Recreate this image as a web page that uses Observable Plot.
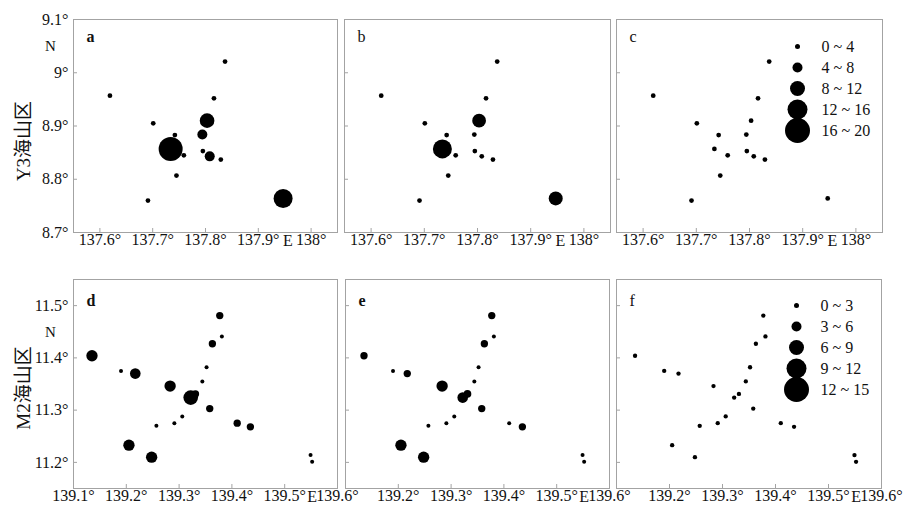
<!DOCTYPE html>
<html><head><meta charset="utf-8">
<script src="https://cdn.jsdelivr.net/npm/d3@7"></script>
<script src="https://cdn.jsdelivr.net/npm/@observablehq/plot@0.6"></script>
<style>
body{margin:0;background:#fff;}
#root{position:relative;width:903px;height:506px;overflow:hidden;font-family:"Liberation Serif",serif;background:#fff;}
.p{position:absolute;}
.rowlab{position:absolute;font-family:"Liberation Serif","Noto Sans CJK SC",serif;font-size:19px;color:#111;white-space:nowrap;transform:translate(-50%,-50%) rotate(-90deg);}
</style></head><body><div id="root"></div>
<script>
// ---- Y3 seamount (top row) ----
const y3Lon = [137.619,137.837,137.816,137.701,137.803,137.794,137.742,137.734,137.759,137.795,137.808,137.829,137.745,137.691,137.947];
const y3Lat = [8.957,9.021,8.952,8.905,8.910,8.884,8.883,8.857,8.845,8.853,8.843,8.837,8.807,8.760,8.764];
const y3A = [3.8,3.8,3.8,3.8,11.7,8,3.8,19.2,3.8,3.8,8,3.8,3.8,3.8,15.2];
const y3B = [3.8,3.8,3.8,3.8,11,3.8,3.8,15.2,3.8,3.8,3.8,3.8,3.8,3.8,11.2];
const y3C = [3.8,3.8,3.8,3.8,3.8,3.8,3.8,3.8,3.8,3.8,3.8,3.8,3.8,3.8,3.8];
const y3LonTicks = [137.6,137.7,137.8,137.9,138];
const y3LatTicks = [8.7,8.8,8.9,9.0,9.1];
const y3LegendLabels = ["0 ~ 4","4 ~ 8","8 ~ 12","12 ~ 16","16 ~ 20"];
const y3LegendValues = [4,8,12,16,20];

// ---- M2 seamount (bottom row) ----
const m2Lon = [139.135,139.190,139.217,139.283,139.322,139.331,139.344,139.352,139.363,139.377,139.381,139.358,139.306,139.291,139.257,139.410,139.435,139.205,139.248,139.549,139.552];
const m2Lat = [11.404,11.375,11.370,11.346,11.324,11.331,11.355,11.382,11.427,11.481,11.441,11.303,11.288,11.275,11.270,11.275,11.268,11.233,11.210,11.214,11.201];
const m2D = [6.8,2.4,6.4,6.8,8.8,4.4,2.4,2.4,4.4,4.4,2.4,4.4,2.4,2.4,2.4,4.4,4.4,6.8,6.8,2.4,2.4];
const m2E = [4.4,2.4,4.4,6.8,6.4,4.6,2.4,2.4,4.4,4.4,2.4,4.4,2.4,2.4,2.4,2.4,4.4,6.8,6.8,2.4,2.4];
const m2F = [2.6,2.6,2.6,2.6,2.6,2.6,2.6,2.6,2.6,2.6,2.6,2.6,2.6,2.6,2.6,2.6,2.6,2.6,2.6,2.6,2.6];
const m2LonTicksFirst = [139.1,139.2,139.3,139.4,139.5,139.6];
const m2LonTicks = [139.2,139.3,139.4,139.5,139.6];
const m2LatTicks = [11.2,11.3,11.4,11.5];
const m2LegendLabels = ["0 ~ 3","3 ~ 6","6 ~ 9","9 ~ 12","12 ~ 15"];
const m2LegendValues = [3,6,9,12,15];

const root = document.getElementById("root");
const ML = 60, MT = 10, MR = 40, MB = 24;
const GRAY = "#a3a3a3";
const fmt = d => (+d.toFixed(1)) + "°";
const baseStyle = {background:"transparent", overflow:"visible", fontFamily:"'Liberation Serif', serif", fontSize:"16px", color:"#111"};

function place(el, left, top){ el.classList.add("p"); el.style.left = left+"px"; el.style.top = top+"px"; root.appendChild(el); }

function panel(o){
  const idx = d3.range(o.lon.length);
  const marks = [
    Plot.frame({stroke: GRAY}),
    Plot.ruleX(o.innerX, {stroke: GRAY, insetTop: o.fh - 4}),
    Plot.ruleY(o.innerY, {stroke: GRAY, insetRight: o.fw - 4}),
    Plot.dot(idx, {x: i => o.lon[i], y: i => o.lat[i], r: i => o.vals[i], fill: "black", stroke: "none"}),
    Plot.text([o.letter], {frameAnchor: "top-left", textAnchor: "start", lineAnchor: "middle", dx: 13, dy: o.ldy, fontWeight: o.bold ? "bold" : "normal", fontSize: 16, fill: "#111"}),
    Plot.text(["E"], {x: () => o.eLon, frameAnchor: "bottom", lineAnchor: "middle", dy: 8, fontSize: 16, fill: "#111"})
  ];
  if (o.showY) marks.push(Plot.text(["N"], {x: () => o.xDomain[0], y: () => o.nLat, dx: -23, fontSize: 15, fill: "#111"}));
  const svg = Plot.plot({
    width: ML + o.fw + MR, height: MT + o.fh + MB,
    marginLeft: ML, marginRight: MR, marginTop: MT, marginBottom: MB,
    style: baseStyle,
    x: {domain: o.xDomain, ticks: o.xTicks, tickFormat: fmt, tickSize: 0, tickPadding: 1.5, label: null},
    y: o.showY ? {domain: o.yDomain, ticks: o.yTicks, tickFormat: fmt, tickSize: 0, tickPadding: 5, label: null}
               : {domain: o.yDomain, axis: null},
    r: {type: "linear", domain: [0, o.vmax], range: [0, 12.5]},
    marks
  });
  place(svg, o.left - ML, o.top - MT);
}

function legend(o){
  const idx = d3.range(o.labels.length);
  const svg = Plot.plot({
    width: 110, height: o.h, margin: 0,
    style: baseStyle,
    x: {domain: [0, 1], range: [20, 44], axis: null},
    y: {type: "point", domain: o.labels, range: [o.y0, o.y1], axis: null},
    r: {type: "linear", domain: [0, o.vmax], range: [0, 12.5]},
    marks: [
      Plot.dot(idx, {x: () => 0, y: i => o.labels[i], r: i => o.values[i], fill: "black", stroke: "none"}),
      Plot.text(idx, {x: () => 1, y: i => o.labels[i], text: i => o.labels[i], textAnchor: "start", fontSize: 16, fill: "#111"})
    ]
  });
  place(svg, o.left, o.top);
}

const topCfg = {xDomain:[137.55,138.05], yDomain:[8.7,9.1], xTicks:y3LonTicks, yTicks:y3LatTicks, innerX:y3LonTicks, innerY:[8.8,8.9,9.0], lon:y3Lon, lat:y3Lat, vmax:20, top:19, fh:213, ldy:17, eLon:137.956, nLat:9.05};
panel({...topCfg, left:73,  fw:264, vals:y3A, letter:"a", bold:true,  showY:true});
panel({...topCfg, left:344, fw:266, vals:y3B, letter:"b", bold:false, showY:false});
panel({...topCfg, left:616, fw:266, vals:y3C, letter:"c", bold:false, showY:false});

const botCfg = {xDomain:[139.1,139.6], yDomain:[11.15,11.55], yTicks:m2LatTicks, innerX:[139.2,139.3,139.4,139.5], innerY:m2LatTicks, lon:m2Lon, lat:m2Lat, vmax:15, top:279, fh:209, ldy:21, eLon:139.552, nLat:11.45};
panel({...botCfg, left:73,  fw:264, xTicks:m2LonTicksFirst, vals:m2D, letter:"d", bold:true,  showY:true});
panel({...botCfg, left:345, fw:264, xTicks:m2LonTicks, vals:m2E, letter:"e", bold:true,  showY:false});
panel({...botCfg, left:616, fw:265, xTicks:m2LonTicks, vals:m2F, letter:"f", bold:false, showY:false});

legend({labels:y3LegendLabels, values:y3LegendValues, vmax:20, left:777, top:19, h:150, y0:14.3, y1:122.7});
legend({labels:m2LegendLabels, values:m2LegendValues, vmax:15, left:776, top:279, h:150, y0:13.7, y1:121.7});

function rowLabel(text, x, y){
  const d = document.createElement("div");
  d.className = "rowlab"; d.textContent = text;
  d.style.left = x+"px"; d.style.top = y+"px";
  root.appendChild(d);
}
rowLabel("Y3海山区", 20.5, 141);
rowLabel("M2海山区", 20.5, 388);
</script>
</body></html>
